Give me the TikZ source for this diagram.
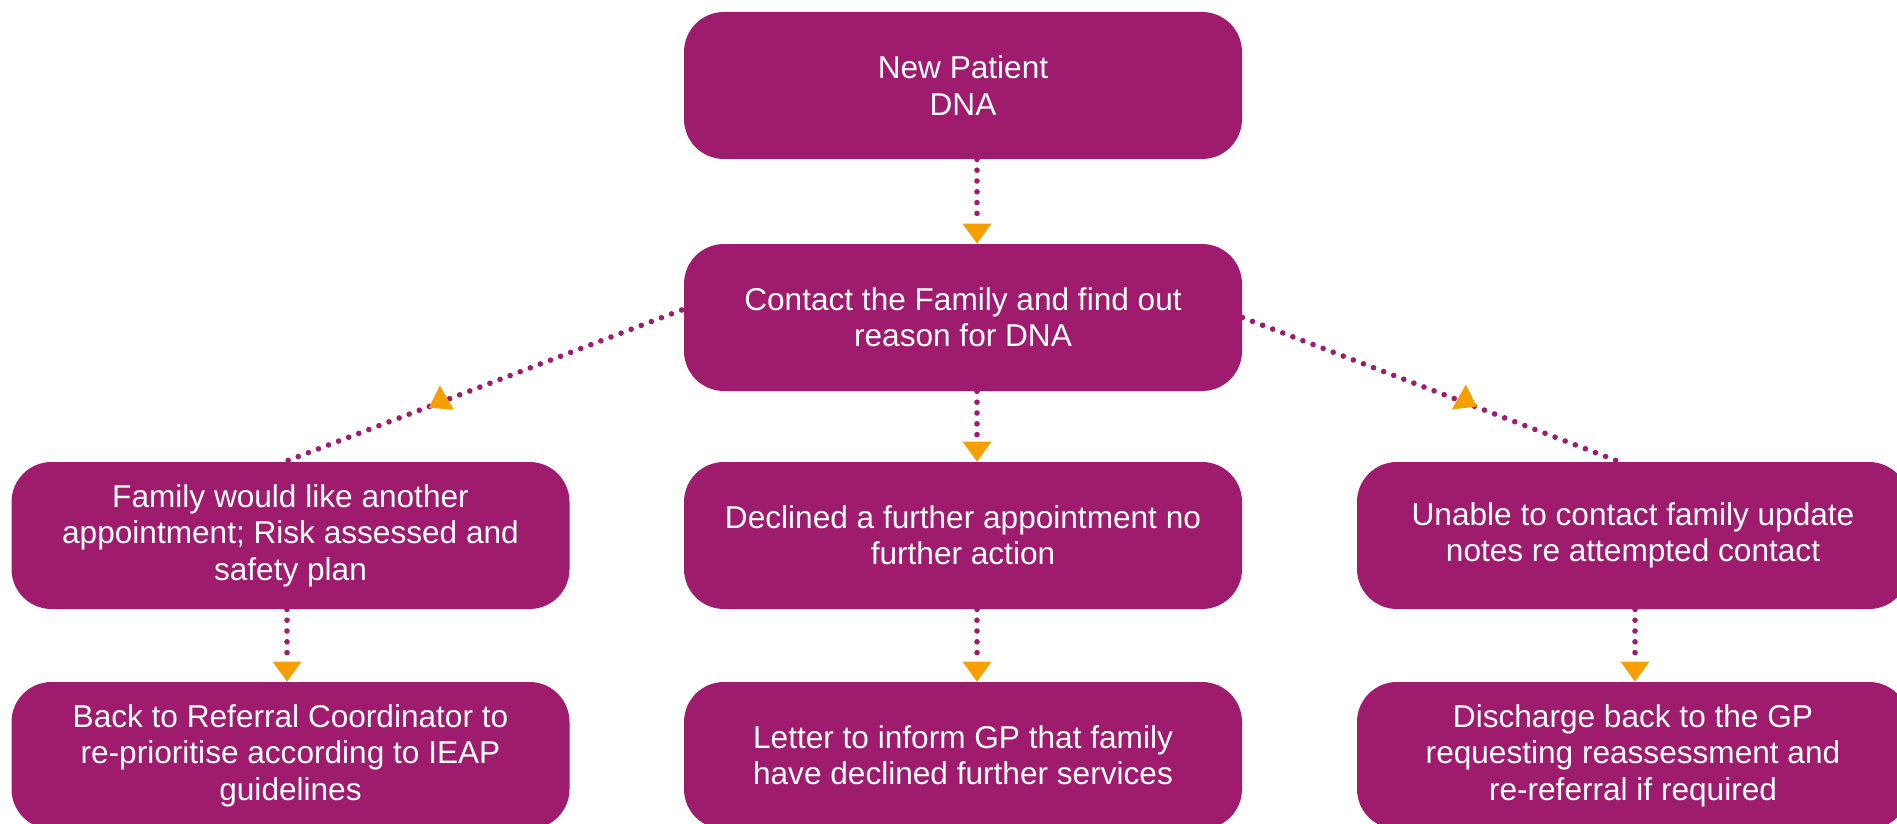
\documentclass[tikz,border=0pt]{standalone}
\usepackage{fontspec}
\setmainfont{Liberation Sans}
\usetikzlibrary{arrows.meta,calc}
\definecolor{plum}{RGB}{158,27,110}
\definecolor{amber}{RGB}{245,160,0}
\begin{document}
\begin{tikzpicture}[x=0.5pt,y=-0.5pt,
  box/.style={fill=plum, text=white, rounded corners=20pt, minimum width=279pt,
    minimum height=73.5pt, inner sep=0pt, align=center,
    font=\fontsize{15.8}{18.2}\selectfont},
  dotline/.style={draw=plum, line width=2.8pt, line cap=round, dash pattern=on 0pt off 5.4pt},
  tipend/.style={-{Triangle[length=10pt,width=14.5pt,color=amber,line width=0pt]}},
  midtri/.style={fill=amber}]
\useasboundingbox (0,0) rectangle (1897,824);
\node[box] (np) at (963,85.5) {New Patient\\DNA};
\node[box] (ct) at (963,317.5) {Contact the Family and find out\\reason for DNA};
\node[box] (lm) at (290.5,535.5) {Family would like another\\appointment; Risk assessed and\\safety plan};
\node[box] (cm) at (963,535.5) {Declined a further appointment no\\further action};
\node[box, minimum width=276pt] (rm) at (1633,535.5) {Unable to contact family update\\notes re attempted contact};
\node[box] (lb) at (290.5,755.5) {Back to Referral Coordinator to\\re-prioritise according to IEAP\\guidelines};
\node[box] (cb) at (963,755.5) {Letter to inform GP that family\\have declined further services};
\node[box, minimum width=276pt] (rb) at (1633,755.5) {Discharge back to the GP\\requesting reassessment and\\re-referral if required};
% vertical connectors
\draw[dotline,tipend] ([xshift=7pt]np.south) -- ([xshift=7pt]ct.north);
\draw[dotline,tipend] ([xshift=7pt]ct.south) -- ([xshift=7pt]cm.north);
\draw[dotline,tipend] ([xshift=7pt]cm.south) -- ([xshift=7pt]cb.north);
\draw[dotline,tipend] ([xshift=-1.75pt]lm.south) -- ([xshift=-1.75pt]lb.north);
\draw[dotline,tipend] ([xshift=1pt]rm.south) -- ([xshift=1pt]rb.north);
% diagonal connectors
\draw[dotline] ($(ct.west)+(-2,-7.5)$) -- ([xshift=-2.75pt]lm.north) coordinate[pos=0.607] (m1);
\draw[dotline] (ct.east) -- ([xshift=-7pt]rm.north) coordinate[pos=0.59] (m2);
\fill[midtri] ($(m1)+(-1,-16.3)$) -- ($(m1)+(-12,5.7)$) -- ($(m1)+(13,7.7)$) -- cycle;
\fill[midtri] ($(m2)+(1.2,-18)$) -- ($(m2)+(-12.8,7)$) -- ($(m2)+(12.2,4)$) -- cycle;
\end{tikzpicture}
\end{document}
